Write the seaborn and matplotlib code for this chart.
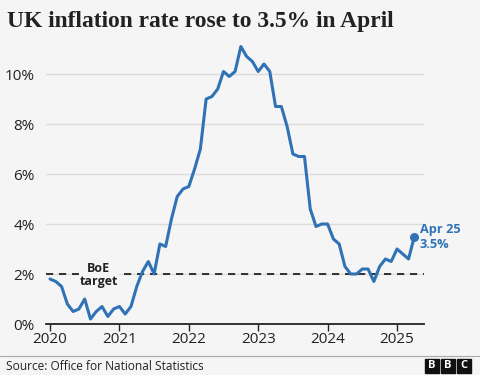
import numpy as np
import pandas as pd
import matplotlib
matplotlib.use("Agg")
import matplotlib.pyplot as plt
import seaborn as sns

# ---- data ----
start_month = "2020-01"
cpi = [1.8, 1.7, 1.5, 0.8, 0.5, 0.6, 1.0, 0.2, 0.5, 0.7, 0.3, 0.6,
       0.7, 0.4, 0.7, 1.5, 2.1, 2.5, 2.0, 3.2, 3.1, 4.2, 5.1, 5.4,
       5.5, 6.2, 7.0, 9.0, 9.1, 9.4, 10.1, 9.9, 10.1, 11.1, 10.7, 10.5,
       10.1, 10.4, 10.1, 8.7, 8.7, 7.9, 6.8, 6.7, 6.7, 4.6, 3.9, 4.0,
       4.0, 3.4, 3.2, 2.3, 2.0, 2.0, 2.2, 2.2, 1.7, 2.3, 2.6, 2.5,
       3.0, 2.8, 2.6, 3.5]
year_ticks = [2020, 2021, 2022, 2023, 2024, 2025]
y_ticks = [0, 2, 4, 6, 8, 10]
target = 2.0
title = "UK inflation rate rose to 3.5% in April"
source = "Source: Office for National Statistics"
last_label = "Apr 25\n3.5%"

dates = pd.date_range(start_month, periods=len(cpi), freq="MS")
df = pd.DataFrame({"t": dates.year + (dates.month - 1) / 12.0, "cpi": cpi})

BG = "#f5f5f5"
BLUE = "#2f72b6"
sns.set_theme(style="white")
plt.rcParams["font.family"] = ["Open Sans", "DejaVu Sans"]

fig = plt.figure(figsize=(4.8, 3.75), dpi=100, facecolor=BG)
ax = fig.add_axes([46/480, 1 - 324/375, (424 - 46)/480, 280/375])
ax.set_facecolor(BG)

for yv in y_ticks[1:]:
    ax.axhline(yv, color="#dcdcdc", lw=1, zorder=0)
ax.axhline(target, color="#222222", lw=1.3, ls=(0, (4, 3.2)), zorder=1)

sns.lineplot(data=df, x="t", y="cpi", color=BLUE, lw=2.2, ax=ax, zorder=3)
ax.scatter(df["t"].iloc[-1], df["cpi"].iloc[-1], s=30, color=BLUE, zorder=4)

ax.set_xlim(2020 - 4/69.4, 2020 + (424 - 50)/69.4)
ax.set_ylim(0, 11.2)
ax.set_xticks(year_ticks)
ax.set_xticklabels([str(y) for y in year_ticks], fontsize=11, color="#222222")
ax.set_yticks(y_ticks)
ax.set_yticklabels([f"{v}%" for v in y_ticks], fontsize=11, color="#222222")
ax.tick_params(axis="x", length=5, width=1, color="#222222", pad=1, bottom=True)
ax.tick_params(axis="y", length=0, pad=8)
ax.set_xlabel("")
ax.set_ylabel("")
for s in ["top", "right", "left"]:
    ax.spines[s].set_visible(False)
ax.spines["bottom"].set_color("#222222")
ax.spines["bottom"].set_linewidth(1.3)

ax.text(2020.7, target - 0.05, "BoE\ntarget", ha="center", va="center", fontsize=9,
        fontweight="bold", color="#222222", linespacing=0.95,
        bbox=dict(facecolor=BG, edgecolor="none", pad=0.5), zorder=2)
ax.text(df["t"].iloc[-1] + 0.08, df["cpi"].iloc[-1] - 0.02, last_label, ha="left", va="center",
        fontsize=9.2, fontweight="bold", color=BLUE, linespacing=1.15, clip_on=False)

fig.text(7/480, 1 - 21/375, title, ha="left", va="center", fontsize=16.9,
         fontweight="bold", family="Liberation Serif", color="#222222")

fig.add_artist(plt.Line2D([0, 1], [1 - 356/375, 1 - 356/375], color="#aaaaaa", lw=0.8))
fig.text(6/480, 1 - 366/375, source, ha="left", va="center", fontsize=8.6, color="#222222")

for i, ch in enumerate("BBC"):
    x0 = 425 + i * 16
    fig.patches.append(plt.Rectangle((x0/480, 1 - 373/375), 14/480, 14/375,
                                     transform=fig.transFigure, color="#111111"))
    fig.text((x0 + 7)/480, 1 - 366/375, ch, ha="center", va="center", fontsize=8,
             fontweight="bold", color="white")

fig.savefig("out.png", dpi=100, facecolor=BG)
